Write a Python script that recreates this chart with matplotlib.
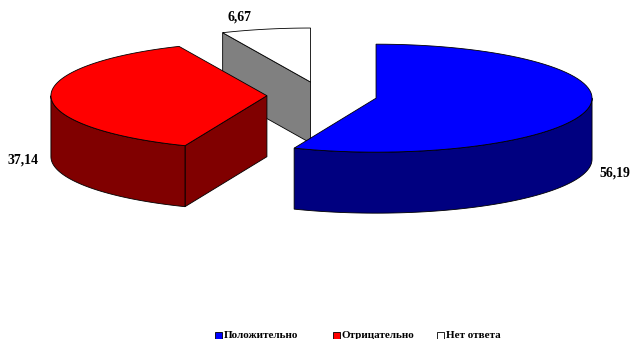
import numpy as np
import matplotlib
matplotlib.use("Agg")
import matplotlib.pyplot as plt
from matplotlib.patches import Polygon, Rectangle

# Survey answers, percent
categories = ["Положительно", "Отрицательно", "Нет ответа"]
values = [56.19, 37.14, 6.67]
value_labels = ["56,19", "37,14", "6,67"]
top_colors = ["#0000FF", "#FF0000", "#FFFFFF"]
side_colors = ["#000080", "#800000", "#808080"]

# Projection of the tilted pie (pixel units)
CX, CY = 322.0, 95.5      # centre of the unexploded pie
RX, RY = 216.0, 54.0      # ellipse radii of the top face
DEPTH = 61.0              # thickness of the pie
EXPLODE = 0.255           # radial offset of every slice (fraction of radius)

W, H = 631, 339
fig = plt.figure(figsize=(W / 100, H / 100), dpi=100)
ax = fig.add_axes([0, 0, 1, 1])
ax.set_xlim(0, W)
ax.set_ylim(H, 0)
ax.axis("off")

plt.rcParams["font.family"] = ["Liberation Serif", "DejaVu Serif"]


def pt(cx, cy, th, dz=0.0):
    return cx + RX * np.cos(th), cy - RY * np.sin(th) + dz


def arc(cx, cy, a, b, dz=0.0, n=80):
    t = np.linspace(a, b, n)
    return np.column_stack([cx + RX * np.cos(t), cy - RY * np.sin(t) + dz])


def front_parts(a, b):
    """Sub-intervals of [a, b] (radians) where the outer wall faces the viewer."""
    parts = []
    k0 = int(np.floor(a / (2 * np.pi))) - 1
    for k in range(k0, k0 + 4):
        lo, hi = 2 * np.pi * k - np.pi, 2 * np.pi * k
        s, e = max(a, lo), min(b, hi)
        if e > s:
            parts.append((s, e))
    return parts


EDGE = dict(edgecolor="black", linewidth=0.6, joinstyle="miter")

# angular spans: start at 12 o'clock, clockwise
total = sum(values)
spans = []
start = np.pi / 2
for v in values:
    sweep = 2 * np.pi * v / total
    spans.append((start - sweep, start))   # counter-clockwise interval
    start -= sweep

# paint from back to front
order = [2, 1, 0]
for i in order:
    a, b = spans[i]
    mid = (a + b) / 2
    cx = CX + EXPLODE * RX * np.cos(mid)
    cy = CY - EXPLODE * RY * np.sin(mid)
    faces = []
    # radial walls
    for ang, normal in ((a, a - np.pi / 2), (b, b + np.pi / 2)):
        if np.sin(normal) < -1e-6:
            p = pt(cx, cy, ang)
            quad = [(cx, cy), p, (p[0], p[1] + DEPTH), (cx, cy + DEPTH)]
            faces.append(Polygon(quad, closed=True, facecolor=side_colors[i], **EDGE))
    # outer curved wall
    for s, e in front_parts(a, b):
        top = arc(cx, cy, s, e)
        bot = arc(cx, cy, s, e, DEPTH)[::-1]
        faces.append(Polygon(np.vstack([top, bot]), closed=True,
                             facecolor=side_colors[i], **EDGE))
    # top face
    top = np.vstack([[cx, cy], arc(cx, cy, a, b)])
    faces.append(Polygon(top, closed=True, facecolor=top_colors[i], **EDGE))
    for f in faces:
        ax.add_patch(f)

# value labels
label_pos = [(599, 173, "left"), (38, 160, "right"), (240, 17, "center")]
for txt, (x, y, ha) in zip(value_labels, label_pos):
    ax.text(x, y, txt, ha=ha, va="center", fontsize=10, fontweight="bold",
            color="black")

# legend
leg_y = 335.5
leg_x = [215, 333, 437]
for name, col, x in zip(categories, top_colors, leg_x):
    ax.add_patch(Rectangle((x, leg_y - 3.5), 7, 7, facecolor=col,
                           edgecolor="black", linewidth=0.6))
    ax.text(x + 9, leg_y, name, ha="left", va="center", fontsize=8,
            fontweight="bold", color="black")

fig.savefig("out.png", dpi=100)
